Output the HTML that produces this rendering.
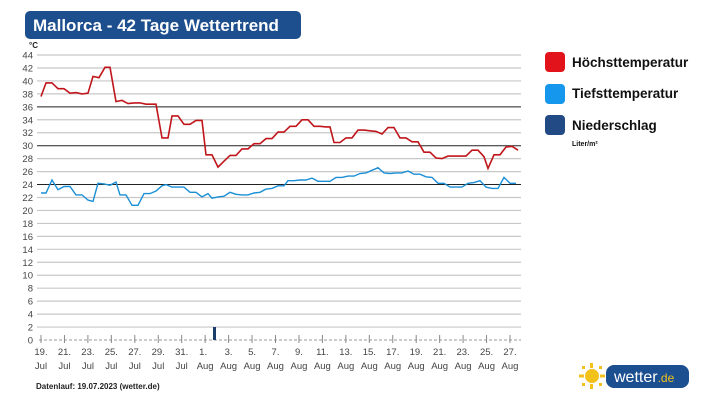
<!DOCTYPE html>
<html><head><meta charset="utf-8"><style>
body{margin:0;width:717px;height:403px;background:#fff;overflow:hidden;font-family:"Liberation Sans",sans-serif}
</style></head><body>
<svg id="s" width="717" height="403" xmlns="http://www.w3.org/2000/svg" font-family="Liberation Sans, sans-serif">
<rect x="25" y="11" width="276" height="28" rx="5" fill="#1d4f8e"/>
<text x="33" y="31" font-size="17" font-weight="bold" fill="#fff">Mallorca - 42 Tage Wettertrend</text>
<text x="29" y="48" font-size="8" font-weight="bold" fill="#222">°C</text>
<g id="grid"></g>
<rect x="213" y="327" width="3" height="13" fill="#1d3e6b"/>
<polyline id="hi" fill="none" stroke="#c0161b" stroke-width="1.6"/>
<polyline id="lo" fill="none" stroke="#1a8fd6" stroke-width="1.4"/>
<rect x="545" y="52" width="20" height="20" rx="4" fill="#e3131b"/>
<rect x="545" y="84" width="20" height="20" rx="4" fill="#1497ec"/>
<rect x="545" y="115" width="20" height="20" rx="4" fill="#224a85"/>
<text x="572" y="67" font-size="13.5" font-weight="bold" fill="#111">Höchsttemperatur</text>
<text x="572" y="98" font-size="13.5" font-weight="bold" fill="#111">Tiefsttemperatur</text>
<text x="572" y="130" font-size="13.5" font-weight="bold" fill="#111">Niederschlag</text>
<text x="572" y="146" font-size="7" font-weight="bold" fill="#111">Liter/m²</text>
<text x="36" y="389" font-size="8" font-weight="bold" fill="#222">Datenlauf: 19.07.2023 (wetter.de)</text>
<g fill="#f2c21a">
<circle cx="592" cy="376" r="7"/>
<rect x="590" y="363" width="3" height="5"/><rect x="590" y="384" width="3" height="5"/>
<rect x="579" y="374.5" width="5" height="3"/><rect x="600" y="374.5" width="5" height="3"/>
<rect x="582" y="366" width="3" height="3"/><rect x="599" y="366" width="3" height="3"/>
<rect x="582" y="383" width="3" height="3"/><rect x="599" y="383" width="3" height="3"/>
</g>
<rect x="606" y="365" width="83" height="23" rx="8" fill="#1c4f8f"/>
<text x="614" y="382" font-size="16" fill="#fff">wetter<tspan font-size="12" fill="#f2c21a">.de</tspan></text>
</svg>
<script>
var s=document.getElementById('grid'),ns='http://www.w3.org/2000/svg';
function Y(v){return 340-v*6.477;}
var h='';
for(var v=0;v<=44;v+=2){var y=Y(v);
 if(v>0){var dark=(v==24||v==30||v==36);
 h+='<line x1="37" x2="521" y1="'+y+'" y2="'+y+'" stroke="'+(dark?'#222':'#c8c8c8')+'" stroke-width="'+(dark?1:1.2)+'"/>';}
 h+='<text x="33" y="'+(y+3.5)+'" font-size="9.5" text-anchor="end" fill="#444">'+v+'</text>';}
h+='<line x1="39" x2="521" y1="340" y2="340" stroke="#999" stroke-dasharray="3,2"/>';
var d=[19,21,23,25,27,29,31,1,3,5,7,9,11,13,15,17,19,21,23,25,27];
for(var i=0;i<21;i++){var x=41+i*23.45;var m=i<7?'Jul':'Aug';
 h+='<line x1="'+x+'" x2="'+x+'" y1="335" y2="343" stroke="#888"/>';
 h+='<text x="'+(x+ (i==7?-2:0))+'" y="355" font-size="9.5" text-anchor="middle" fill="#444">'+d[i]+'.</text>';
 h+='<text x="'+x+'" y="369" font-size="9.5" text-anchor="middle" fill="#444">'+m+'</text>';}
s.innerHTML=h;
var hi=[41,37.6,46,39.7,52,39.7,58,38.8,64,38.8,70,38.1,76,38.2,82,38.0,88,38.1,93,40.7,99,40.5,105,42.1,110,42.1,116,36.8,122,37.0,128,36.5,134,36.6,140,36.6,146,36.4,156,36.4,162,31.2,168,31.2,172,34.6,178,34.6,184,33.3,190,33.3,196,33.9,202,33.9,206,28.6,212,28.6,218,26.7,224,27.6,230,28.5,236,28.5,242,29.5,248,29.5,254,30.3,260,30.3,266,31.1,272,31.1,278,32.1,284,32.1,290,33.0,296,33.0,302,34.0,308,34.0,314,33.0,320,33.0,326,32.9,330,32.9,334,30.5,340,30.5,346,31.2,352,31.2,358,32.4,364,32.4,370,32.3,376,32.2,382,31.8,388,32.8,394,32.8,400,31.2,406,31.2,412,30.6,418,30.6,424,29,430,29,436,28.1,442,28,448,28.4,454,28.4,460,28.4,466,28.4,472,29.3,478,29.3,484,28.3,488,26.5,494,28.6,500,28.6,506,29.8,512,29.9,518,29.3];
var lo=[41,22.7,46,22.7,52,24.7,58,23.2,64,23.7,70,23.7,76,22.4,82,22.4,88,21.6,93,21.4,98,24.2,104,24.1,110,23.9,116,24.4,120,22.4,126,22.4,132,20.8,138,20.8,144,22.6,150,22.6,156,23.0,162,23.8,166,24.0,172,23.6,178,23.6,184,23.6,190,22.8,196,22.8,202,22.1,208,22.6,212,21.9,218,22.1,224,22.2,230,22.8,236,22.5,242,22.4,248,22.4,254,22.7,260,22.8,266,23.3,272,23.4,278,23.8,284,23.8,288,24.6,294,24.6,300,24.7,306,24.7,312,25.0,318,24.5,324,24.5,330,24.5,336,25.1,342,25.1,348,25.3,354,25.3,360,25.7,366,25.8,372,26.2,378,26.6,384,25.8,390,25.7,396,25.8,402,25.8,408,26.1,414,25.6,420,25.6,426,25.2,432,25.1,438,24.2,444,24.2,450,23.6,456,23.6,462,23.6,468,24.2,474,24.3,480,24.6,486,23.6,492,23.4,498,23.4,504,25.1,510,24.2,516,24.2];
function P(a){var r=[];for(var i=0;i<a.length;i+=2)r.push(a[i]+','+Y(a[i+1]).toFixed(1));return r.join(' ');}
document.getElementById('hi').setAttribute('points',P(hi));
document.getElementById('lo').setAttribute('points',P(lo));
</script>
</body></html>
